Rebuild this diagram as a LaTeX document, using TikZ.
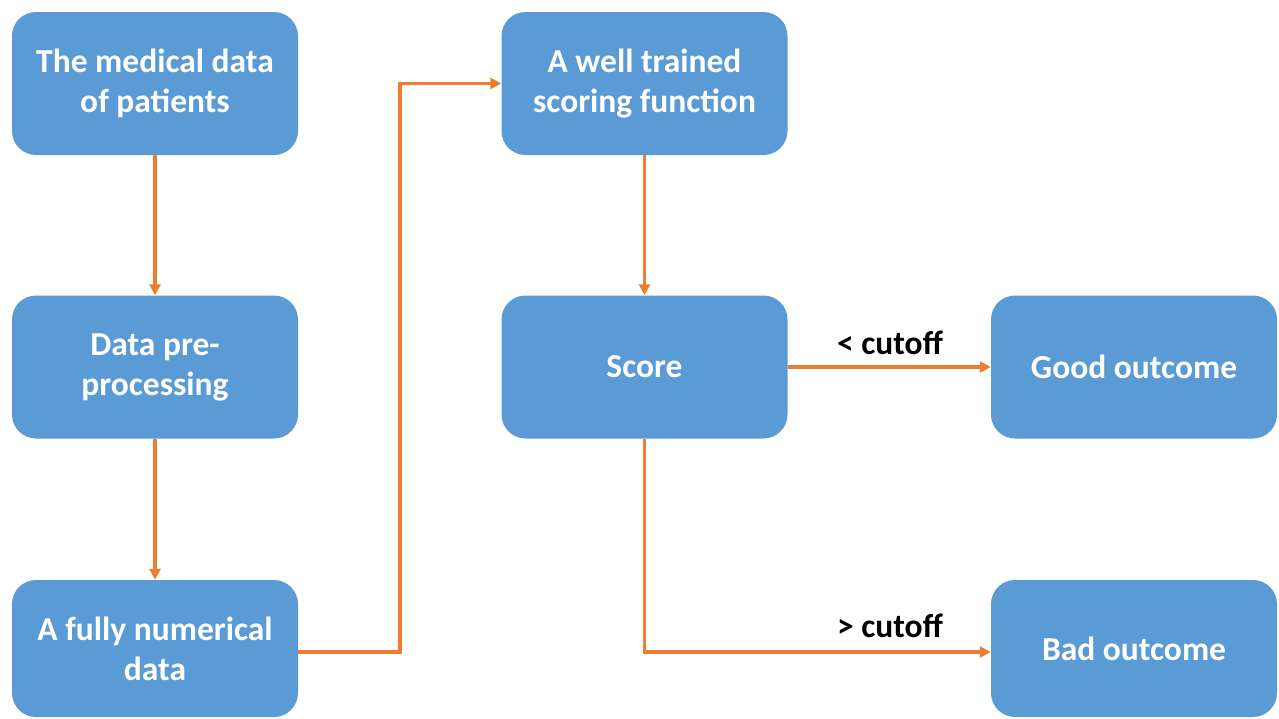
\documentclass[tikz,border=0pt]{standalone}
\usepackage{fontspec}
\setmainfont{Carlito}
\usetikzlibrary{arrows.meta}
\definecolor{boxblue}{HTML}{5B9BD5}
\definecolor{arrorange}{HTML}{ED7D31}
\begin{document}
\begin{tikzpicture}[x=1pt,y=-1pt,
  box/.style={rectangle, rounded corners=24pt, fill=boxblue, draw=none,
    minimum width=286pt, minimum height=143pt, text=white, align=center,
    font=\fontsize{33.5}{40}\selectfont\bfseries, inner sep=0pt},
  lowbox/.style={box, minimum height=137pt},
  conn/.style={draw=arrorange, line width=3.5pt, -{Triangle[length=11pt,width=11pt]}},
  lbl/.style={font=\fontsize{33.5}{40}\selectfont\bfseries, text=black}]
\useasboundingbox (0,0) rectangle (1279,718);
\node[box] (b1) at (155,83.5) {The medical data\\of patients};
\node[box] (b2) at (155,367) {Data pre-\\processing};
\node[lowbox] (b3) at (155,648.5) {A fully numerical\\data};
\node[box] (b4) at (644.5,83.5) {A well trained\\scoring function};
\node[box] (b5) at (644.5,367) {Score};
\node[box] (b6) at (1134,367) {Good outcome};
\node[lowbox] (b7) at (1134,648.5) {Bad outcome};
\coordinate (turn) at (400,652);
\draw[conn] (b1) -- (b2);
\draw[conn] (b2) -- (b3);
\draw[conn] (b3.east |- turn) -- (turn) |- (b4.west);
\draw[conn] (b4) -- (b5);
\draw[conn] (b5) -- (b6);
\draw[conn] (b5.south) |- (b7.west |- turn);
\node[lbl] (l1) at (890,343) {< cutoff};
\node[lbl] (l2) at (890,626) {> cutoff};
\end{tikzpicture}
\end{document}
